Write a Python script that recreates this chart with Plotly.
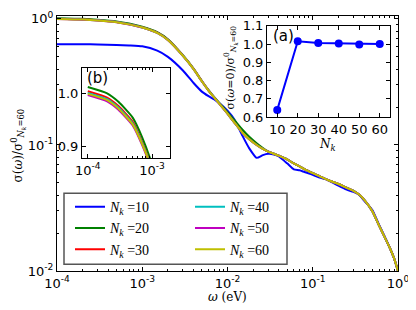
import plotly.graph_objects as go

# ---------------- data ----------------
omega = [1e-4, 2e-4, 3e-4, 5e-4, 7e-4, 1e-3, 1.5e-3, 2e-3, 3e-3, 4e-3, 5e-3, 6e-3, 7e-3, 8e-3,
         1e-2, 1.2e-2, 1.5e-2, 1.8e-2, 2.2e-2, 2.6e-2, 3e-2, 3.5e-2, 4e-2, 5e-2, 6e-2, 7e-2, 8e-2,
         0.1, 0.12, 0.15, 0.2, 0.25, 0.3, 0.35, 0.4, 0.5, 0.6, 0.7, 0.8, 0.9, 1.0]

sigma_n10 = [0.630, 0.629, 0.627, 0.622, 0.616, 0.606, 0.560, 0.500, 0.390, 0.310, 0.265, 0.244, 0.230, 0.215,
             0.187, 0.160, 0.118, 0.094, 0.079, 0.0830, 0.0850, 0.0840, 0.0810, 0.0715, 0.0640, 0.0630, 0.0610,
             0.0580, 0.0550, 0.0527, 0.0475, 0.0442, 0.0425, 0.0402, 0.0362, 0.0305, 0.0232, 0.0187, 0.0153, 0.0126, 0.0100]
sigma_n20 = [1.013, 1.001, 0.985, 0.955, 0.918, 0.866, 0.785, 0.690, 0.515, 0.403, 0.322, 0.272, 0.239, 0.216,
             0.182, 0.158, 0.132, 0.116, 0.103, 0.0945, 0.0890, 0.0852, 0.0822, 0.0770, 0.0715, 0.0677, 0.0643,
             0.0598, 0.0566, 0.0528, 0.0491, 0.0458, 0.0434, 0.0404, 0.0369, 0.0298, 0.0229, 0.0185, 0.0153, 0.0126, 0.0100]
sigma_n30 = [1.005, 0.993, 0.977, 0.947, 0.909, 0.858, 0.777, 0.682, 0.511, 0.401, 0.321, 0.270, 0.237, 0.213,
             0.177, 0.151, 0.125, 0.111, 0.100, 0.093, 0.0885, 0.0852, 0.0822, 0.0768, 0.0713, 0.0676, 0.0642,
             0.0597, 0.0565, 0.0527, 0.0490, 0.0457, 0.0433, 0.0404, 0.0369, 0.0298, 0.0229, 0.0185, 0.0153, 0.0126, 0.0100]
sigma_n40 = [1.002, 0.990, 0.974, 0.944, 0.907, 0.856, 0.776, 0.681, 0.510, 0.400, 0.320, 0.270, 0.237, 0.213,
             0.177, 0.151, 0.125, 0.111, 0.100, 0.093, 0.0885, 0.0852, 0.0822, 0.0768, 0.0713, 0.0676, 0.0642,
             0.0597, 0.0565, 0.0527, 0.0490, 0.0457, 0.0433, 0.0404, 0.0369, 0.0298, 0.0229, 0.0185, 0.0153, 0.0126, 0.0100]
sigma_n50 = [0.998, 0.986, 0.970, 0.940, 0.903, 0.853, 0.774, 0.679, 0.510, 0.400, 0.320, 0.270, 0.237, 0.213,
             0.177, 0.151, 0.125, 0.111, 0.100, 0.093, 0.0885, 0.0852, 0.0822, 0.0768, 0.0713, 0.0676, 0.0642,
             0.0597, 0.0565, 0.0527, 0.0490, 0.0457, 0.0433, 0.0404, 0.0369, 0.0298, 0.0229, 0.0185, 0.0153, 0.0126, 0.0100]
sigma_n60 = [1.000, 0.988, 0.972, 0.942, 0.905, 0.855, 0.775, 0.680, 0.510, 0.400, 0.320, 0.270, 0.237, 0.213,
             0.177, 0.151, 0.125, 0.111, 0.100, 0.093, 0.0885, 0.0852, 0.0822, 0.0768, 0.0713, 0.0676, 0.0642,
             0.0597, 0.0565, 0.0527, 0.0490, 0.0457, 0.0433, 0.0404, 0.0369, 0.0298, 0.0229, 0.0185, 0.0153, 0.0126, 0.0100]

nk_values = [10, 20, 30, 40, 50, 60]
sigma0_ratio = [0.64, 1.015, 1.005, 1.003, 0.998, 1.000]

series_labels = ["10", "20", "30", "40", "50", "60"]
series_data = [sigma_n10, sigma_n20, sigma_n30, sigma_n40, sigma_n50, sigma_n60]
series_colors = ["#0000ff", "#008000", "#ff0000", "#00bfbf", "#bf00bf", "#bfbf00"]

main_ytick_vals = [0.01, 0.1, 1]
main_ytick_text = ["10<sup>-2</sup>", "10<sup>-1</sup>", "10<sup>0</sup>"]
main_xtick_vals = [1e-4, 1e-3, 1e-2, 1e-1, 1]
main_xtick_text = ["10<sup>-4</sup>", "10<sup>-3</sup>", "10<sup>-2</sup>", "10<sup>-1</sup>", "10<sup>0</sup>"]

# ---------------- figure ----------------
# the page shows the figure offset by the default 8px body margin
OFF = 8
W, H = 416 - OFF, 310 - OFF
L, R, T, B = 57 - OFF, 18, 1, 39
pw, ph = W - L - R, H - T - B
BOTTOM_Y = OFF + H - B          # window y of the x axis


def px(X):  # window px -> paper x
    return (X - OFF - L) / pw


def py(Y):  # window px -> paper y
    return (H - B - (Y - OFF)) / ph


fig = go.Figure()

for i, (lab, dat, col) in enumerate(zip(series_labels, series_data, series_colors)):
    fig.add_trace(go.Scatter(
        x=omega, y=dat, mode="lines", line=dict(color=col, width=2, shape="spline", smoothing=0.5),
        name="<i>N</i><sub><i>k</i></sub> =" + lab,
        legend="legend" if i < 3 else "legend2", legendgroup="g" + lab,
        xaxis="x", yaxis="y"))

for i, (lab, dat, col) in enumerate(zip(series_labels, series_data, series_colors)):
    fig.add_trace(go.Scatter(
        x=omega, y=dat, mode="lines", line=dict(color=col, width=2, shape="spline", smoothing=0.5),
        showlegend=False, xaxis="x3", yaxis="y3"))

fig.add_trace(go.Scatter(
    x=nk_values, y=sigma0_ratio, mode="lines+markers",
    line=dict(color="#0000ff", width=2), marker=dict(color="#0000ff", size=8),
    showlegend=False, xaxis="x2", yaxis="y2"))

tickfont = dict(family="DejaVu Sans", size=13, color="black")
axis_common = dict(showline=True, linecolor="black", linewidth=1, mirror="allticks",
                   ticks="inside", ticklen=4, tickcolor="black", showgrid=False, zeroline=False)


def log_minor(e0, e1):
    return [m * 10 ** e for e in range(e0, e1) for m in range(2, 10)]


# 10^0 sits at window y=12, one decade is ~129.5 px
decade_px = (BOTTOM_Y - 12) / 2
top_log = (BOTTOM_Y - (OFF + T)) / decade_px - 2

legend_font = dict(family="Liberation Serif", size=14, color="black")

fig.update_layout(
    width=W, height=H, margin=dict(l=L, r=R, t=T, b=B),
    paper_bgcolor="white", plot_bgcolor="white",
    xaxis=dict(type="log", range=[-4, 0], domain=[0, 1], anchor="y",
               tickmode="array", tickvals=main_xtick_vals, ticktext=main_xtick_text,
               minor=dict(tickvals=log_minor(-4, 0), ticks="inside", ticklen=2, tickcolor="black"),
               tickfont=tickfont, **axis_common),
    yaxis=dict(type="log", range=[-2, top_log], domain=[0, 1], anchor="x",
               tickmode="array", tickvals=main_ytick_vals, ticktext=main_ytick_text,
               minor=dict(tickvals=log_minor(-2, 0), ticks="inside", ticklen=2, tickcolor="black"),
               tickfont=tickfont, **axis_common),
    xaxis2=dict(range=[5, 65], domain=[px(267), px(390)], anchor="y2",
                tickmode="array", tickvals=[10, 20, 30, 40, 50, 60],
                tickfont=tickfont, **axis_common),
    yaxis2=dict(range=[0.6, 1.1], domain=[py(113), py(19)], anchor="x2",
                tickmode="array", tickvals=[0.6, 0.7, 0.8, 0.9, 1.0, 1.1],
                ticktext=["0.6", "0.7", "0.8", "0.9", "1.0", "1.1"],
                tickfont=tickfont, **axis_common),
    xaxis3=dict(type="log", range=[-4.09, -2.72], domain=[px(82), px(170)], anchor="y3",
                tickmode="array", tickvals=[1e-4, 1e-3], ticktext=["10<sup>-4</sup>", "10<sup>-3</sup>"],
                minor=dict(tickvals=log_minor(-4, -2), ticks="inside", ticklen=2, tickcolor="black"),
                tickfont=tickfont, **axis_common),
    yaxis3=dict(range=[0.878, 1.05], domain=[py(155), py(62)], anchor="x3",
                tickmode="array", tickvals=[0.9, 1.0], ticktext=["0.9", "1.0"],
                tickfont=tickfont, **axis_common),
    legend=dict(x=px(70), y=py(189), xanchor="left", yanchor="top", bgcolor="rgba(0,0,0,0)",
                borderwidth=0, font=legend_font, tracegroupgap=0, itemwidth=30),
    legend2=dict(x=px(190), y=py(189), xanchor="left", yanchor="top", bgcolor="rgba(0,0,0,0)",
                 borderwidth=0, font=legend_font, tracegroupgap=0, itemwidth=30),
    shapes=[dict(type="rect", xref="paper", yref="paper", x0=px(64), x1=px(287), y0=py(264), y1=py(191),
                 line=dict(color="#555555", width=1.5), fillcolor="white", layer="below")],
    annotations=[
        dict(text="σ(<i>ω</i>)/σ<sup>0</sup><sub><i>N<sub>k</sub></i>=60</sub>", x=px(18), y=py(142),
             xref="paper", yref="paper", textangle=-90, showarrow=False, xanchor="center", yanchor="middle",
             font=dict(family="DejaVu Serif", size=12, color="black")),
        dict(text="<i>ω</i> (eV)", x=px(227), y=py(298), xref="paper", yref="paper", showarrow=False,
             xanchor="center", yanchor="middle",
             font=dict(family="DejaVu Serif", size=12, color="black")),
        dict(text="σ(<i>ω</i>=0)/σ<sup>0</sup><sub><i>N<sub>k</sub></i>=60</sub>", x=px(231), y=py(62),
             xref="paper", yref="paper", textangle=-90, showarrow=False, xanchor="center", yanchor="middle",
             font=dict(family="DejaVu Serif", size=11, color="black")),
        dict(text="<i>N<sub>k</sub></i>", x=px(327), y=py(142), xref="paper", yref="paper", showarrow=False,
             xanchor="center", yanchor="middle",
             font=dict(family="DejaVu Serif", size=12, color="black")),
        dict(text="(a)", x=px(283), y=py(30), xref="paper", yref="paper", showarrow=False,
             xanchor="center", yanchor="middle",
             font=dict(family="DejaVu Sans", size=15, color="black")),
        dict(text="(b)", x=px(97), y=py(73), xref="paper", yref="paper", showarrow=False,
             xanchor="center", yanchor="middle",
             font=dict(family="DejaVu Sans", size=15, color="black")),
    ],
)

fig.write_html("out.html")
